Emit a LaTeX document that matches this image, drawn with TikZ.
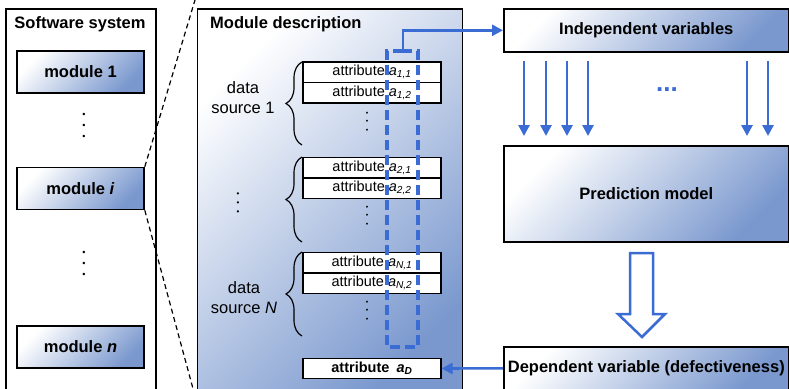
\documentclass[tikz,border=0pt]{standalone}
\usepackage{fontspec}
\setmainfont{Liberation Sans}
\usetikzlibrary{arrows.meta,decorations.pathreplacing}
\definecolor{lblue}{RGB}{59,108,212}
\definecolor{gblue}{RGB}{122,152,206}
\newcommand{\threedots}[1]{\vbox{\baselineskip=#1\lineskiplimit=-20pt\hbox{•}\hbox{•}\hbox{•}}}
\begin{document}
\begin{tikzpicture}[x=1pt,y=-1pt,
  bigfont/.style={font=\fontsize{16.5}{19}\selectfont\bfseries},
  smallfont/.style={font=\fontsize{14.5}{20}\selectfont},
  gbox/.style={draw=black, line width=1.6pt, shading=axis, top color=white, bottom color=gblue, shading angle=45, inner sep=0pt},
  modbox/.style={gbox, bigfont, minimum width=127pt, minimum height=42pt},
  rightbox/.style={gbox, bigfont, minimum width=285pt, anchor=north west},
  rowbox/.style={draw=black, line width=1.2pt, fill=white, smallfont, minimum width=138pt, minimum height=20.5pt, inner sep=0pt},
  brc/.style={decorate, decoration={brace, amplitude=16pt}, line width=1.2pt},
  dsl/.style={font=\fontsize{16.5}{20}\selectfont, align=center},
  vd/.style={inner sep=0pt},
  blueline/.style={draw=lblue, line width=3.2pt},
  barrow/.style={draw=lblue, line width=2.6pt, -{Triangle[width=11pt,length=11pt]}},
  zoomline/.style={line width=1.2pt, dash pattern=on 5pt off 3.5pt},
]
\useasboundingbox (0,0) rectangle (789,388);
\clip (0,0) rectangle (789,388);
% Software system
\node[draw=black, line width=1.6pt, fill=white, minimum width=150pt, minimum height=392pt, anchor=north west, inner sep=0pt] (sys) at (5,8) {};
\node[bigfont] (systitle) at (80,24) {Software system};
\node[modbox] (m1) at (80.5,72) {module 1};
\node[modbox] (mi) at (80.5,188.5) {module \textit{i}};
\node[modbox] (mn) at (80.5,347) {module \textit{n}};
\node[vd, font=\fontsize{9}{9}\selectfont] (sd1) at (84,126) {\threedots{11pt}};
\node[vd, font=\fontsize{9}{9}\selectfont] (sd2) at (84,264) {\threedots{11pt}};
% Module description
\node[gbox, minimum width=265pt, minimum height=392pt, anchor=north west] (desc) at (196.5,8) {};
\node[bigfont, anchor=west, inner sep=0pt] (desctitle) at (210,24) {Module description};
\coordinate (ztop) at (195,0);
\draw[zoomline] (mi.north east) -- (ztop);
\draw[zoomline] (mi.south east) -- (desc.south west);
% rows
\node[rowbox] (r11) at (372,72.3) {attribute \textit{a}\textsubscript{\textit{1,1}}};
\node[rowbox] (r12) at (372,92.8) {attribute \textit{a}\textsubscript{\textit{1,2}}};
\node[rowbox] (r21) at (372,167.5) {attribute \textit{a}\textsubscript{\textit{2,1}}};
\node[rowbox] (r22) at (372,188.2) {attribute \textit{a}\textsubscript{\textit{2,2}}};
\node[rowbox] (rN1) at (372,262.5) {attribute \textit{a}\textsubscript{\textit{N,1}}};
\node[rowbox] (rN2) at (372,283.2) {attribute \textit{a}\textsubscript{\textit{N,2}}};
\node[rowbox, font=\fontsize{14.5}{20}\selectfont\bfseries] (rD) at (372,368.5) {attribute\enspace\textit{a}\textsubscript{\textit{D}}};
\node[vd, font=\fontsize{7}{7}\selectfont] (td1) at (367,122) {\threedots{8.5pt}};
\node[vd, font=\fontsize{7}{7}\selectfont] (td2) at (367,216) {\threedots{8.5pt}};
\node[vd, font=\fontsize{7}{7}\selectfont] (td3) at (367,311) {\threedots{8.5pt}};
% braces
\draw[brc] (302,145) -- (302,62);
\draw[brc] (302,242) -- (302,157);
\draw[brc] (302,336) -- (302,252);
\node[dsl] (ds1) at (243,98) {data\\source 1};
\node[vd, font=\fontsize{8}{8}\selectfont] (ds2) at (238,204) {\threedots{9pt}};
\node[dsl] (dsN) at (244,298) {data\\source \textit{N}};
% right column
\node[rightbox, minimum height=43pt] (iv) at (503,8) {Independent variables};
\node[rightbox, minimum height=96pt] (pm) at (503,145) {Prediction model};
\node[rightbox, minimum height=43pt] (dv) at (503,346) {Dependent variable (defectiveness)};
% dashed selection
\coordinate (dtop) at (403,51);
\draw[blueline, dash pattern=on 10pt off 5pt] (dtop) -- (387,51) -- (387,347) -- (418,347) -- (418,51) -- (dtop);
\draw[barrow] (dtop) |- (iv.west);
\foreach \x in {524,546,567,588,747,768} \draw[barrow] (\x,61) -- (\x,136);
\node[font=\fontsize{26}{26}\selectfont\bfseries, text=lblue] (ell) at (667,90) {...};
\draw[draw=lblue, line width=2.5pt, fill=white, line join=miter] (630,253) -- (653,253) -- (653,314) -- (665,314) -- (642,337) -- (618,314) -- (630,314) -- cycle;
\draw[barrow] (dv.west) -- (rD.east);
\end{tikzpicture}
\end{document}
